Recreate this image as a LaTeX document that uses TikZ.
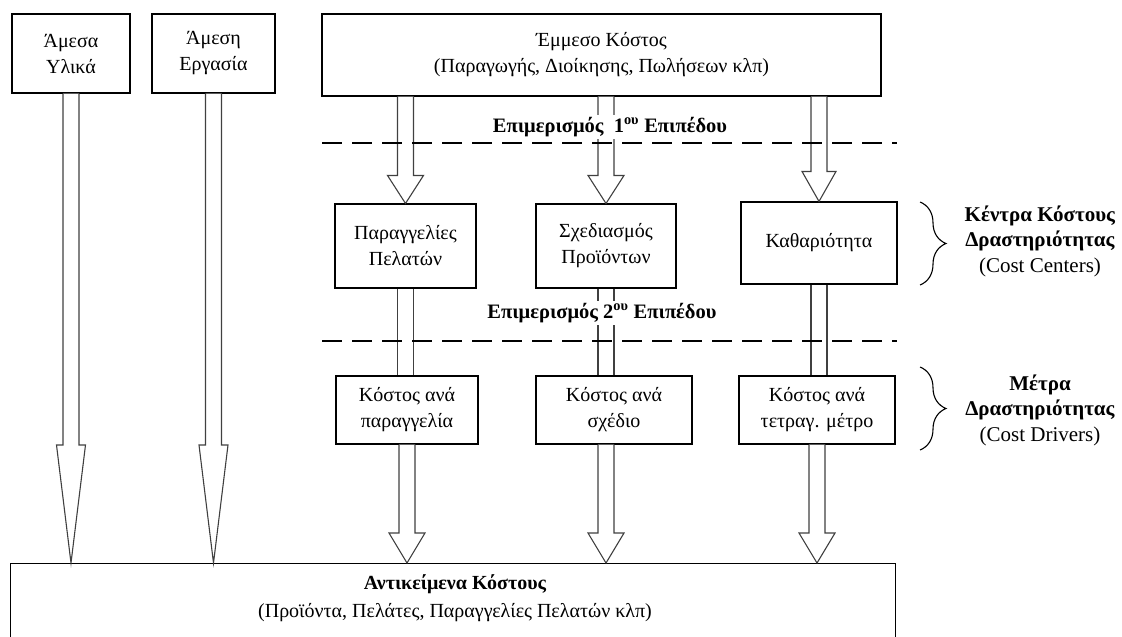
\documentclass[tikz,border=0pt]{standalone}
\usepackage{fontspec}
\setmainfont{Liberation Serif}
\usetikzlibrary{calc, decorations.pathreplacing}

% hollow block arrow: from, to, head length, head half width
\newcommand{\blockarrow}[4]{%
  \draw[arrowline, fill=white] let \p1=(#1), \p2=(#2) in
    (\x1-8pt,\y1) -- (\x1-8pt,\y2+#3) -- (\x1-#4,\y2+#3) -- (\x1,\y2)
    -- (\x1+#4,\y2+#3) -- (\x1+8pt,\y2+#3) -- (\x1+8pt,\y1);}
% open shaft without head
\newcommand{\twinshaft}[2]{%
  \draw[arrowline] let \p1=(#1), \p2=(#2) in
    (\x1-8pt,\y1) -- (\x1-8pt,\y2) (\x1+8pt,\y1) -- (\x1+8pt,\y2);}

\begin{document}
\begin{tikzpicture}[
    x=1pt, y=-1pt,
    font=\fontsize{20}{26}\selectfont,
    costbox/.style={draw=black, line width=1.1pt, align=center, inner sep=2pt},
    arrowline/.style={draw=black!75, line width=1.1pt},
    levelcut/.style={line width=2.2pt, dash pattern=on 20pt off 10pt},
    levellabel/.style={fill=white, font=\fontsize{20.5}{26}\selectfont\bfseries, inner sep=2pt},
    sidebrace/.style={decorate, decoration={brace, amplitude=26pt, aspect=0.5}, line width=1.1pt},
    sidenote/.style={align=center, font=\fontsize{21}{25.5}\selectfont},
]
\useasboundingbox (0,0) rectangle (1122,637);
\clip (0,0) rectangle (1122,637);

% Cost sources
\node[costbox, minimum width=118pt, minimum height=79pt] (matl) at (71,53.5) {Άμεσα\\Υλικά};
\node[costbox, minimum width=123pt, minimum height=79pt] (labour) at (213.5,53.5) {Άμεση\\Εργασία};
\node[costbox, minimum width=559pt, minimum height=82pt] (indirect) at (601.5,55) {Έμμεσο Κόστος\\(Παραγωγής, Διοίκησης, Πωλήσεων κλπ)};

% Cost centers
\node[costbox, minimum width=141pt, minimum height=84pt] (orders) at (405.5,246) {Παραγγελίες\\Πελατών};
\node[costbox, minimum width=140pt, minimum height=84pt] (design) at (606,246) {Σχεδιασμός\\Προϊόντων};
\node[costbox, minimum width=156pt, minimum height=82pt] (clean) at (819,243) {Καθαριότητα};

% Cost drivers
\node[costbox, minimum width=142pt, minimum height=68pt] (perorder) at (407,410) {Κόστος ανά\\παραγγελία};
\node[costbox, minimum width=156pt, minimum height=68pt] (perdesign) at (614,410) {Κόστος ανά\\σχέδιο};
\node[costbox, minimum width=156pt, minimum height=68pt] (perarea) at (817,410) {Κόστος ανά\\τετραγ. μέτρο};

% Cost objects
\node[costbox, anchor=north west, minimum width=885pt, minimum height=100pt] (objects) at (10,563) {};
\node[font=\fontsize{20}{26}\selectfont\bfseries] (objtitle) at (455,584) {Αντικείμενα Κόστους};
\node (objlist) at (455,613) {(Προϊόντα, Πελάτες, Παραγγελίες Πελατών κλπ)};

% Direct costs
\blockarrow{matl.south}{matl.south |- objects.north}{118pt}{14.5pt}
\blockarrow{labour.south}{labour.south |- objects.north}{118pt}{14.5pt}

% First level allocation
\blockarrow{orders.north |- indirect.south}{orders.north}{28pt}{18pt}
\blockarrow{design.north |- indirect.south}{design.north}{28pt}{18pt}
\blockarrow{clean.north |- indirect.south}{clean.north}{30pt}{17pt}

% Second level allocation
\twinshaft{orders.south}{orders.south |- perorder.north}
\twinshaft{design.south}{design.south |- perdesign.north}
\twinshaft{clean.south}{clean.south |- perarea.north}

% To cost objects
\blockarrow{perorder.south}{perorder.south |- objects.north}{30pt}{18pt}
\blockarrow{design.south |- perdesign.south}{design.south |- objects.north}{30pt}{18pt}
\blockarrow{perarea.south}{perarea.south |- objects.north}{30pt}{18pt}

% Level cuts
\coordinate (cut1w) at (322,143);
\coordinate (cut1e) at (897,143);
\coordinate (cut2w) at (322,341);
\coordinate (cut2e) at (897,341);
\draw[levelcut] (cut1w) -- (cut1e);
\draw[levelcut] (cut2w) -- (cut2e);
\node[levellabel] (alloc1) at (610,127) {Επιμερισμός\ \ 1\textsuperscript{ου} Επιπέδου};
\node[levellabel] (alloc2) at (602,313) {Επιμερισμός 2\textsuperscript{ου} Επιπέδου};

% Side notes
\coordinate (brace1top) at (920,202);
\coordinate (brace1bot) at (920,285);
\coordinate (brace2top) at (920,367);
\coordinate (brace2bot) at (920,450);
\draw[sidebrace] (brace1top) -- (brace1bot);
\draw[sidebrace] (brace2top) -- (brace2bot);
\node[sidenote] (centers) at (1040,241) {\textbf{Κέντρα Κόστους}\\\textbf{Δραστηριότητας}\\(Cost Centers)};
\node[sidenote] (drivers) at (1040,410) {\textbf{Μέτρα}\\\textbf{Δραστηριότητας}\\(Cost Drivers)};

\end{tikzpicture}
\end{document}
